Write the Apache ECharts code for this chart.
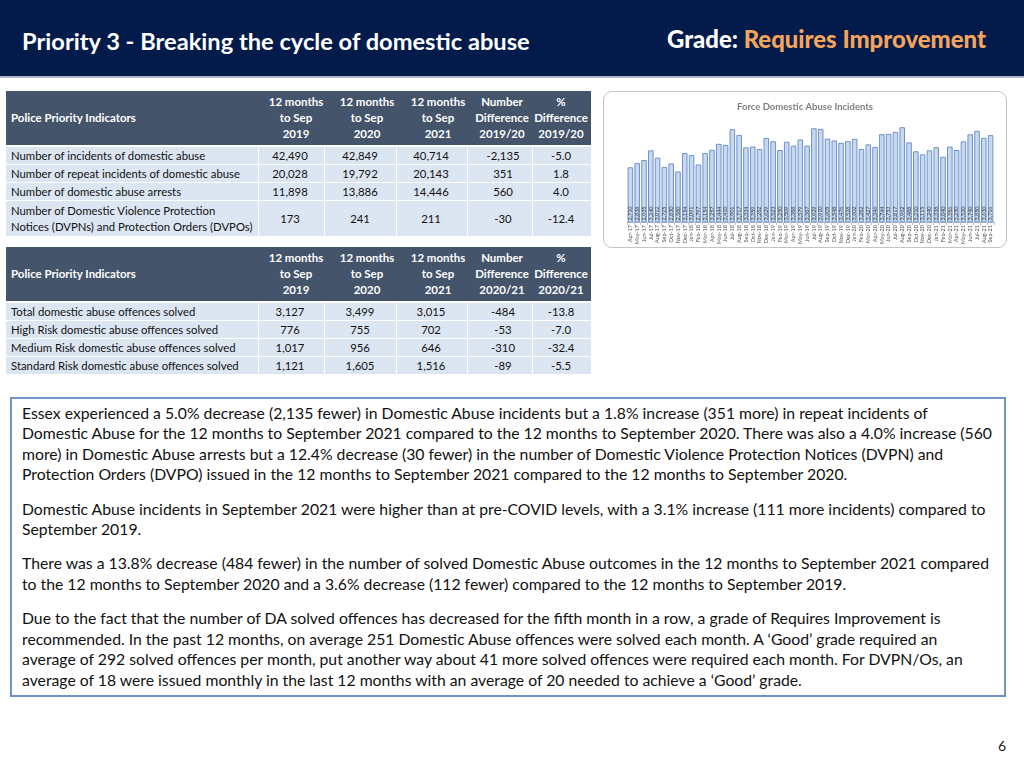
<!DOCTYPE html>
<html><head><meta charset="utf-8">
<script src="https://cdn.jsdelivr.net/npm/echarts@6/dist/echarts.min.js"></script>
<style>
html,body{margin:0;padding:0;}
body{width:1024px;height:768px;position:relative;overflow:hidden;background:#fff;font-family:Lato,'Open Sans',sans-serif;color:#000;}
.abs{position:absolute;white-space:nowrap;}
#hdr{left:0;top:0;width:1024px;height:76px;background:#021b4b;}
#hdrline{left:0;top:76px;width:1024px;height:2px;background:#aeb6c6;}
#title{left:22px;top:27px;height:28px;line-height:28px;color:#fff;font-weight:700;font-size:21px;}
#grade{left:667px;top:25px;height:28px;line-height:28px;color:#fff;font-weight:700;font-size:21px;}
#grade span{color:#f5a45c;}
.th{background:#44546a;}
.thtxt{color:#fff;font-weight:700;font-size:11px;line-height:16px;text-align:center;transform:translateX(-50%);}
.thlab{color:#fff;font-weight:700;font-size:11px;line-height:16px;}
.td{background:#dce6f2;}
.tdtxt{font-size:11px;line-height:16px;color:#111;}
.tdc{transform:translateX(-50%);text-align:center;}
#chartbox{left:603px;top:91px;width:404px;height:157px;border:1px solid #c4c4c4;border-radius:9px;box-sizing:border-box;pointer-events:none;}
#chart{left:603px;top:91px;width:404px;height:157px;}
#tbox{left:10px;top:397px;width:996px;height:300px;border:2px solid #6f93c8;box-sizing:border-box;}
#body{left:22px;top:402.7px;}
#body .ln{white-space:nowrap;line-height:20.6px;height:20.6px;font-size:15px;color:#111;}
#body .p{margin-bottom:13.6px;}
#pg{left:998px;top:737px;font-size:14px;line-height:18px;color:#222;}
</style></head><body>
<div class="abs" id="hdr"></div>
<div class="abs" id="hdrline"></div>
<div class="abs" id="title"><span>Priority 3 - Breaking the cycle of domestic abuse</span></div>
<div class="abs" id="grade"><b>Grade: <span>Requires Improvement</span></b></div>
<div id="tables"></div>
<div class="abs" id="chart"></div>
<div class="abs" id="chartbox"></div>
<div class="abs" id="tbox"></div>
<div class="abs" id="body"></div>
<div class="abs" id="pg">6</div>
<script>
// ---------- DATA ----------
const months = ["Apr-17","May-17","Jun-17","Jul-17","Aug-17","Sep-17","Oct-17","Nov-17","Dec-17",
 "Jan-18","Feb-18","Mar-18","Apr-18","May-18","Jun-18","Jul-18","Aug-18","Sep-18","Oct-18","Nov-18","Dec-18",
 "Jan-19","Feb-19","Mar-19","Apr-19","May-19","Jun-19","Jul-19","Aug-19","Sep-19","Oct-19","Nov-19","Dec-19",
 "Jan-20","Feb-20","Mar-20","Apr-20","May-20","Jun-20","Jul-20","Aug-20","Sep-20","Oct-20","Nov-20","Dec-20",
 "Jan-21","Feb-21","Mar-21","Apr-21","May-21","Jun-21","Jul-21","Aug-21","Sep-21"];
const incidents = [2710,2838,2935,3240,3012,2725,2830,2580,3154,
 3091,2797,3154,3257,3444,3410,3901,3717,3334,3359,3282,3629,
 3523,3250,3509,3388,3579,3387,3929,3910,3605,3548,3476,3528,
 3602,3282,3427,3346,3744,3753,3817,3962,3488,3210,3115,3240,
 3338,3040,3356,3250,3520,3740,3850,3630,3716];
const chartTitle = "Force Domestic Abuse Incidents";

const pageTitle = "Priority 3 - Breaking the cycle of domestic abuse";
const rowHeaderLabel = "Police Priority Indicators";
const table1Head = [["12 months","to Sep","2019"],["12 months","to Sep","2020"],["12 months","to Sep","2021"],["Number","Difference","2019/20"],["%","Difference","2019/20"]];
const table1Labels = ["Number of incidents of domestic abuse","Number of repeat incidents of domestic abuse","Number of domestic abuse arrests","Number of Domestic Violence Protection|Notices (DVPNs) and Protection Orders (DVPOs)"];
const table1Values = [["42,490","42,849","40,714","-2,135","-5.0"],["20,028","19,792","20,143","351","1.8"],["11,898","13,886","14,446","560","4.0"],["173","241","211","-30","-12.4"]];
const table2Head = [["12 months","to Sep","2019"],["12 months","to Sep","2020"],["12 months","to Sep","2021"],["Number","Difference","2020/21"],["%","Difference","2020/21"]];
const table2Labels = ["Total domestic abuse offences solved","High Risk domestic abuse offences solved","Medium Risk domestic abuse offences solved","Standard Risk domestic abuse offences solved"];
const table2Values = [["3,127","3,499","3,015","-484","-13.8"],["776","755","702","-53","-7.0"],["1,017","956","646","-310","-32.4"],["1,121","1,605","1,516","-89","-5.5"]];

const paragraphs = [
 ["Essex experienced a 5.0% decrease (2,135 fewer) in Domestic Abuse incidents but a 1.8% increase (351 more) in repeat incidents of",
  "Domestic Abuse for the 12 months to September 2021 compared to the 12 months to September 2020. There was also a 4.0% increase (560",
  "more) in Domestic Abuse arrests but a 12.4% decrease (30 fewer) in the number of Domestic Violence Protection Notices (DVPN) and",
  "Protection Orders (DVPO) issued in the 12 months to September 2021 compared to the 12 months to September 2020."],
 ["Domestic Abuse incidents in September 2021 were higher than at pre-COVID levels, with a 3.1% increase (111 more incidents) compared to",
  "September 2019."],
 ["There was a 13.8% decrease (484 fewer) in the number of solved Domestic Abuse outcomes in the 12 months to September 2021 compared",
  "to the 12 months to September 2020 and a 3.6% decrease (112 fewer) compared to the 12 months to September 2019."],
 ["Due to the fact that the number of DA solved offences has decreased for the fifth month in a row, a grade of Requires Improvement is",
  "recommended. In the past 12 months, on average 251 Domestic Abuse offences were solved each month. A \u2018Good\u2019 grade required an",
  "average of 292 solved offences per month, put another way about 41 more solved offences were required each month. For DVPN/Os, an",
  "average of 18 were issued monthly in the last 12 months with an average of 20 needed to achieve a \u2018Good\u2019 grade."]
];

// ---------- LAYOUT HELPERS ----------
function div(cls, css, html){
  const d=document.createElement('div'); d.className='abs '+(cls||''); Object.assign(d.style,css||{}); if(html!==undefined) d.innerHTML=html;
  document.getElementById('tables').appendChild(d); return d;
}
const headCenters=[296,367,438,502,561];
const dataCenters=[290,360,431,503,561];
const cellEdges=[6,258,324,396,467,532,591];

function buildTable(top, head, labels, values, rowTops, rowHeights){
  div('th',{left:'6px',top:top+'px',width:'585px',height:'54px'});
  div('thlab',{left:'11px',top:(top+19)+'px'},rowHeaderLabel);
  head.forEach((lines,i)=>{
    lines.forEach((t,j)=>div('thtxt',{left:headCenters[i]+'px',top:(top+3+16*j)+'px'},t));
  });
  labels.forEach((lab,r)=>{
    const y=rowTops[r], h=rowHeights[r];
    for(let c=0;c<6;c++){
      div('td',{left:(cellEdges[c]+(c?1:0))+'px',top:y+'px',width:(cellEdges[c+1]-cellEdges[c]-(c?1:0))+'px',height:(h-1)+'px'});
    }
    const parts=lab.split('|');
    const cy=y+(h-1)/2;
    parts.forEach((p,k)=>div('tdtxt',{left:'11px',top:(cy-8*parts.length+16*k)+'px'},p));
    values[r].forEach((v,c)=>div('tdtxt tdc',{left:dataCenters[c]+'px',top:(cy-8)+'px'},v));
  });
}
buildTable(91, table1Head, table1Labels, table1Values,[147,165,183,201],[18,18,18,36]);
buildTable(247, table2Head, table2Labels, table2Values,[303,321,339,357],[18,18,18,18]);

// body text
const body=document.getElementById('body');
paragraphs.forEach((p,i)=>{
  const pd=document.createElement('div'); if(i<paragraphs.length-1) pd.className='p';
  p.forEach(l=>{const ln=document.createElement('div'); ln.className='ln'; ln.innerHTML='<span>'+l+'</span>'; pd.appendChild(ln);});
  body.appendChild(pd);
});

// font fitting
function fitSize(el, target){
  const w=el.getBoundingClientRect().width; const fs=parseFloat(getComputedStyle(el).fontSize);
  return fs*target/w;
}
document.getElementById('title').style.fontSize=fitSize(document.querySelector('#title span'),508)+'px';
document.getElementById('grade').style.fontSize=fitSize(document.querySelector('#grade b'),319)+'px';
const refLine=body.querySelectorAll('.ln span')[1];
const bfs=fitSize(refLine,971);
body.querySelectorAll('.ln').forEach(l=>l.style.fontSize=bfs+'px');
const thl=document.querySelector('.thlab');
const hfs=fitSize(thl,125);
document.querySelectorAll('.thlab,.thtxt').forEach(e=>e.style.fontSize=hfs+'px');
const tds=[...document.querySelectorAll('.tdtxt')].find(e=>e.textContent==="Notices (DVPNs) and Protection Orders (DVPOs)");
const dfs=fitSize(tds,242);
document.querySelectorAll('.tdtxt').forEach(e=>e.style.fontSize=dfs+'px');

// ---------- CHART ----------
const chart=echarts.init(document.getElementById('chart'));
chart.setOption({
  animation:false,
  textStyle:{fontFamily:'Lato'},
  title:{text:chartTitle,left:'center',top:6,textStyle:{fontSize:9.5,fontWeight:700,color:'#7f7f7f',fontFamily:'Lato'}},
  grid:{left:24,right:13,top:19,bottom:26},
  xAxis:{type:'category',data:months,
    axisLine:{lineStyle:{color:'#bfbfbf'}},
    axisTick:{show:true,length:3,lineStyle:{color:'#bfbfbf'}},
    axisLabel:{interval:0,rotate:90,fontSize:5.5,color:'#505050',margin:3}},
  yAxis:{type:'value',min:1000,max:4500,show:false,splitLine:{show:false}},
  series:[{type:'bar',data:incidents,barCategoryGap:'18%',
    itemStyle:{color:'#c6d9f1',borderColor:'#6f93c9',borderWidth:1},
    label:{show:true,position:'insideBottom',rotate:90,align:'left',verticalAlign:'middle',distance:2,fontSize:5.5,color:'#404040',
      formatter:p=>p.value.toLocaleString('en-GB')}}]
});
</script>
</body></html>
